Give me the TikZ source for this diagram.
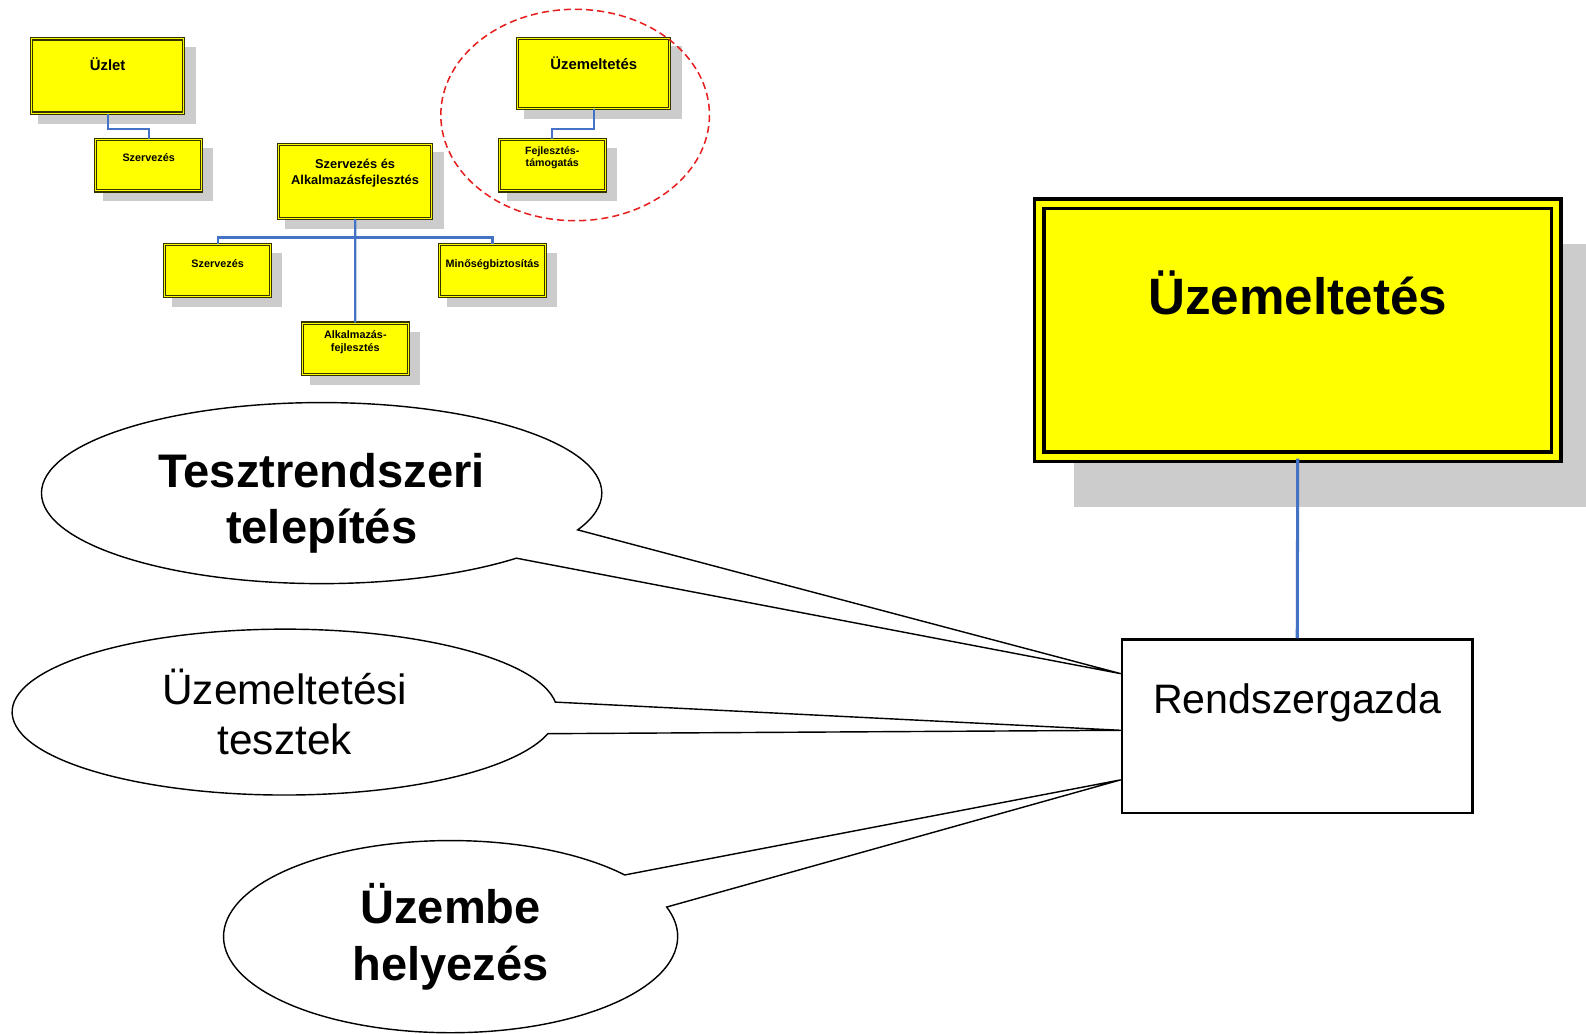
\documentclass[tikz,border=0pt]{standalone}
\usepackage{fontspec}
\setmainfont{Liberation Sans}
\usetikzlibrary{shapes.callouts, shadows, calc, positioning}

\definecolor{boxyellow}{RGB}{255,255,0}
\definecolor{oliveline}{RGB}{51,51,0}
\definecolor{shadegray}{RGB}{204,204,204}
\definecolor{tieblue}{RGB}{68,114,196}
\definecolor{ringred}{RGB}{230,30,30}

\begin{document}
\begin{tikzpicture}[
  x = 1pt,
  y = -1pt,
  line join = miter
  ]

  \tikzstyle{orgbox}=[
  draw = oliveline,
  double = boxyellow,
  double distance = 1pt,
  line width = 1.1pt,
  fill = boxyellow,
  minimum width = 105pt,
  minimum height = 51pt,
  drop shadow = {shadow xshift=9pt, shadow yshift=-9pt, shadow scale=1.04, fill=shadegray, opacity=1}
  ]
  \tikzstyle{orgtext}=[
  inner sep = 0pt,
  align = center,
  font = \fontsize{10.7}{12.8}\selectfont\bfseries
  ]
  \tikzstyle{tie}=[draw = tieblue, line width = 2.2pt]
  \tikzstyle{bubble}=[
  ellipse callout,
  draw = black,
  fill = white,
  line width = 1.4pt,
  align = center,
  callout pointer arc = 22
  ]

  \useasboundingbox (0,0) rectangle (1568,1022);

  \node[orgbox, minimum width=150.7pt, minimum height=73.3pt] (uzlet) at (106.4,75.1) {};
  \node[orgbox] (szerv) at (147,163.3) {};
  \node[orgbox, minimum width=150.3pt, minimum height=69.2pt] (uzem) at (587,72.5) {};
  \node[orgbox] (fejl) at (546,163.3) {};
  \node[orgbox, minimum width=150.8pt, minimum height=73.2pt] (szaf) at (351.1,179.3) {};
  \node[orgbox] (szerv2) at (215.2,267.4) {};
  \node[orgbox] (minos) at (487,267.4) {};
  \node[orgbox] (alkf) at (351.3,344.9) {};

  \node[orgtext, font=\fontsize{14.7}{17.6}\selectfont\bfseries, yshift=-26pt] (uzlet-t) at (uzlet.north) {Üzlet};
  \node[orgtext, yshift=-19pt] (szerv-t) at (szerv.north) {Szervezés};
  \node[orgtext, font=\fontsize{14.7}{17.6}\selectfont\bfseries, yshift=-25pt] (uzem-t) at (uzem.north) {Üzemeltetés};
  \node[orgtext, font=\fontsize{10.5}{11.8}\selectfont\bfseries, yshift=-19pt] (fejl-t) at (fejl.north) {Fejlesztés-\\támogatás};
  \node[orgtext, font=\fontsize{12.7}{15.2}\selectfont\bfseries, yshift=-29pt] (szaf-t) at (szaf.north) {Szervezés és\\Alkalmazásfejlesztés};
  \node[orgtext, yshift=-19pt] (szerv2-t) at (szerv2.north) {Szervezés};
  \node[orgtext, yshift=-20pt] (minos-t) at (minos.north) {Minőségbiztosítás};
  \node[orgtext, yshift=-19pt] (alkf-t) at (alkf.north) {Alkalmazás-\\fejlesztés};

  \draw[tie] (uzlet.south) -- ++(0,15) -| (szerv.north);
  \draw[tie] (uzem.south) -- ++(0,19.8) -| (fejl.north);
  \draw[tie] (szaf.south) -- (alkf.north);
  \draw[tie] (szerv2.north) -- ++(0,-6.6) -| (minos.north);

  \node[draw = black, double = boxyellow, double distance = 5.8pt, line width = 3.6pt, fill = boxyellow,
    minimum width = 511pt, minimum height = 250pt,
    drop shadow = {shadow xshift=43pt, shadow yshift=-43pt, shadow scale=1.04, fill=shadegray, opacity=1}]
    (uzemb) at (1283,326.5) {};
  \node[inner sep=0pt, font=\fontsize{50.6}{60.7}\selectfont\bfseries, yshift=-89.5pt] (uzemb-t) at (uzemb.north) {Üzemeltetés};

  \node[draw = black, line width = 2.5pt, minimum width = 346.5pt, minimum height = 171.5pt] (rsz) at (1282.5,718) {};
  \node[inner sep=0pt, font=\fontsize{40.7}{48.8}\selectfont, yshift=-64pt] (rsz-t) at (rsz.north) {Rendszergazda};

  \draw[tie, line width=3pt] (uzemb.south) -- (rsz.north);

  \node[bubble, font=\fontsize{46.6}{56}\selectfont\bfseries, minimum width=554pt, minimum height=179pt,
    callout absolute pointer={($(rsz.west)+(0,-52)$)}]
    (teszt) at (318,487.5) {\rule{0pt}{54pt}Tesztrendszeri\\telepítés};
  \node[bubble, font=\fontsize{41.9}{50}\selectfont, minimum width=539pt, minimum height=164pt,
    callout absolute pointer={($(rsz.west)+(0,4)$)}]
    (uztesz) at (281.5,704) {Üzemeltetési\\tesztek};
  \node[bubble, font=\fontsize{46.5}{56}\selectfont\bfseries, minimum width=449pt, minimum height=190pt,
    callout absolute pointer={($(rsz.west)+(0,53)$)}]
    (uzembe) at (445.5,926) {Üzembe\\helyezés};

  \draw[ringred, line width=1.5pt, dash pattern=on 7pt off 4pt] (568.6,113.7) ellipse [x radius=132.8, y radius=104.5];

\end{tikzpicture}
\end{document}
